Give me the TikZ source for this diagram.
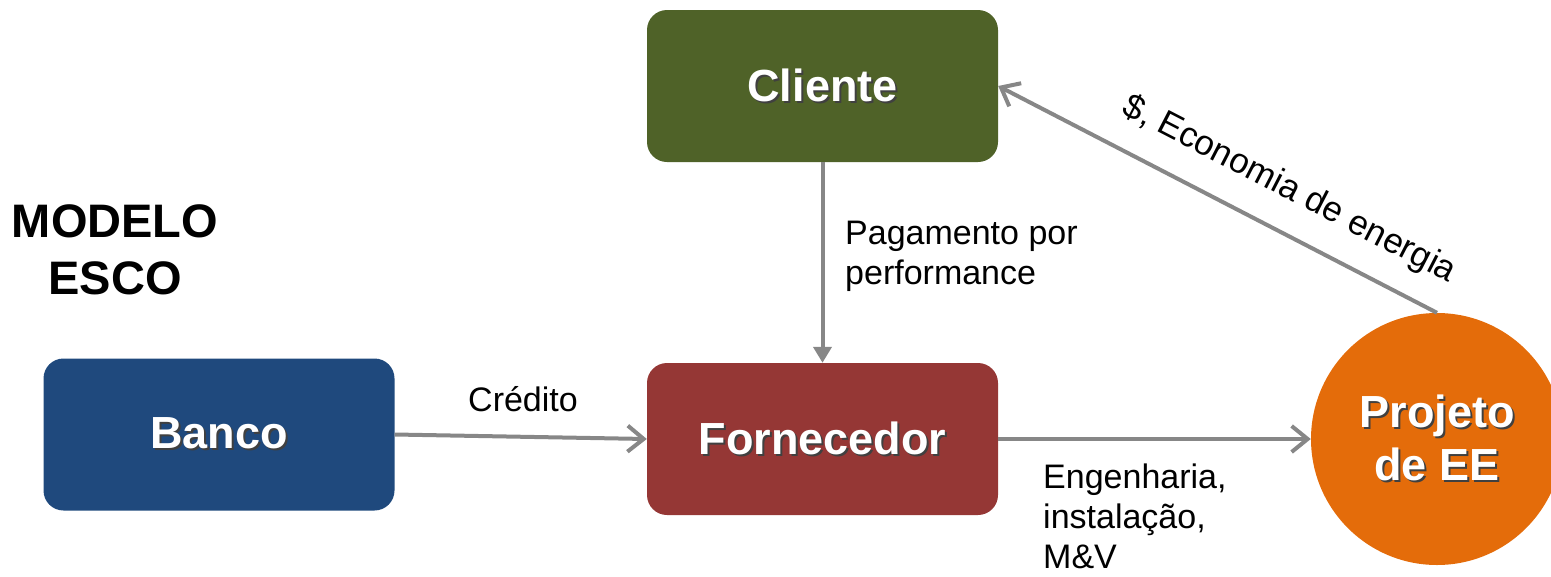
\documentclass[tikz,border=0pt]{standalone}
\usepackage{fontspec}
\setmainfont{Liberation Sans}
\usetikzlibrary{arrows.meta}
\definecolor{cgreen}{HTML}{4F6228}
\definecolor{cblue}{HTML}{1F497D}
\definecolor{cred}{HTML}{953735}
\definecolor{corange}{HTML}{E46C0A}
\definecolor{carrow}{HTML}{878787}
\newcommand\shtxt[1]{\rlap{\hspace{2pt}\raisebox{-2pt}{\textcolor{black!75}{#1}}}#1}
\begin{document}
\begin{tikzpicture}[x=1pt,y=-1pt,
  box/.style={rounded corners=20pt, minimum width=351pt, minimum height=152pt,
    inner sep=0pt, text=white, font=\fontsize{45}{53}\selectfont\bfseries},
  conn/.style={draw=carrow, line width=4pt},
  barb/.style={-{Straight Barb[length=16pt,width=26pt]}},
  tri/.style={-{Triangle[length=16pt,width=18pt]}},
  lbl/.style={inner sep=0pt, text=black, font=\fontsize{34}{40}\selectfont, align=left},
  title/.style={inner sep=0pt, font=\fontsize{47}{57}\selectfont\bfseries, align=center}
]
\useasboundingbox (0,0) rectangle (1551,576);
\node[box, fill=cgreen] (cli) at (822.5,86) {\raisebox{-3pt}{\shtxt{Cliente}}};
\node[box, fill=cblue] (banco) at (219,434.5) {\raisebox{-3pt}{\shtxt{Banco}}};
\node[box, fill=cred] (forn) at (822.5,439) {\raisebox{-3pt}{\shtxt{Fornecedor}}};
\node[circle, fill=corange, minimum size=252pt, inner sep=0pt, text=white,
  font=\fontsize{45}{53}\selectfont\bfseries, align=center] (proj) at (1437,439)
  {\shtxt{Projeto}\\\shtxt{de EE}};
\node[title] (modelo) at (115,250) {MODELO\\ESCO};

\draw[conn, tri] (cli.south) -- (forn.north);
\draw[conn, barb] (banco.east) -- (forn.west);
\draw[conn, barb] (forn.east) -- (proj.west);
\draw[conn, barb] (proj.north) -- (cli.east)
  node[pos=0.38, sloped, above=23pt, inner sep=0pt, font=\fontsize{35}{40}\selectfont] (econ) {\$, Economia de energia};

\node[lbl, anchor=north west] (pag) at (845,221) {Pagamento por\\performance};
\node[lbl, anchor=base] (cred) at (523,411) {Crédito};
\node[lbl, anchor=north west] (eng) at (1043,464) {Engenharia,\\instalação,\\M\&V};
\end{tikzpicture}
\end{document}
